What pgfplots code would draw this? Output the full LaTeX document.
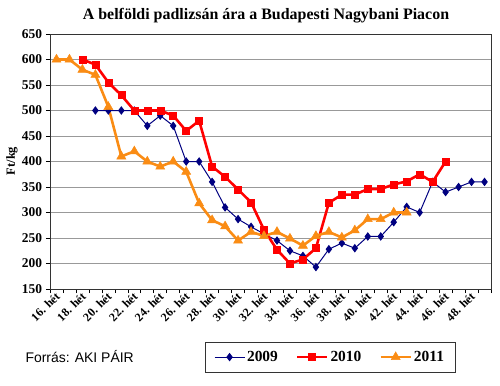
\documentclass[border=0pt]{standalone}
\usepackage{fontspec}
\setmainfont{Liberation Serif}
\newfontfamily\arial{Liberation Sans}
\usepackage{pgfplots}
\pgfplotsset{compat=1.18}
\definecolor{c2009}{RGB}{0,0,128}
\definecolor{c2010}{RGB}{255,0,0}
\definecolor{c2011}{RGB}{250,140,20}
\begin{document}
\begin{tikzpicture}
\useasboundingbox (-50bp,-97bp) rectangle (450bp,289bp);
\begin{axis}[
  at={(0,0)}, anchor=south west,
  scale only axis, width=441bp, height=255bp,
  xmin=15.5, xmax=49.5, ymin=150, ymax=650,
  ytick={150,200,...,650},
  xtick={16,18,...,48},
  xticklabels={16. hét,18. hét,20. hét,22. hét,24. hét,26. hét,28. hét,30. hét,32. hét,34. hét,36. hét,38. hét,40. hét,42. hét,44. hét,46. hét,48. hét},
  minor xtick={15.5,16.5,...,49.5},
  x tick style={draw=none},
  minor x tick style={draw=black, line width=0.6pt},
  minor tick length=4bp,
  major tick length=4bp,
  tick align=outside,
  ytick pos=left, xtick pos=bottom,
  y tick style={black, line width=0.6pt},
  ymajorgrids, grid style={gray!80, line width=0.6pt},
  axis line style={line width=0.6pt, black!80},
  /pgf/number format/assume math mode=true,
  yticklabel style={font=\bfseries\fontsize{13.5}{15}\selectfont, xshift=-0.5bp},
  xticklabel style={font=\bfseries\fontsize{12}{14}\selectfont, rotate=45, anchor=east, inner sep=1bp, yshift=-2bp, xshift=1bp},
  legend columns=3,
  legend style={at={(0.635,-0.267)}, anchor=center, draw=black!80, line width=0.6pt,
    font=\bfseries\fontsize{15.5}{17}\selectfont, inner xsep=9bp, inner ysep=7bp,
    /tikz/every even column/.append style={column sep=16bp}},
  legend image code/.code={\draw[mark repeat=2,mark phase=2] plot coordinates {(0bp,0bp)(15bp,0bp)(30bp,0bp)};},
]
\addplot[c2009, line width=1pt, mark=diamond*, mark size=3.5bp, mark options={solid}] coordinates {
(19,500)(20,500)(21,500)(22,500)(23,470)(24,490)(25,470)(26,400)(27,400)(28,360)(29,310)(30,287)(31,272)(32,258)(33,245)(34,225)(35,215)(36,193)(37,228)(38,240)(39,230)(40,253)(41,253)(42,281)(43,311)(44,300)(45,360)(46,340)(47,350)(48,360)(49,360)};
\addlegendentry{2009}
\addplot[c2010, line width=2.6pt, mark=square*, mark size=3.5bp, mark options={solid, line width=0.5pt}] coordinates {
(18,600)(19,590)(20,555)(21,530)(22,500)(23,500)(24,500)(25,490)(26,460)(27,480)(28,390)(29,370)(30,345)(31,320)(32,266)(33,227)(34,200)(35,208)(36,230)(37,319)(38,335)(39,335)(40,346)(41,346)(42,355)(43,361)(44,375)(45,360)(46,400)};
\addlegendentry{2010}
\addplot[c2011, line width=2.6pt, mark=triangle*, mark size=5.2bp, mark options={solid, line width=0.5pt}] coordinates {
(16,600)(17,600)(18,580)(19,570)(20,507)(21,410)(22,420)(23,400)(24,390)(25,400)(26,380)(27,318)(28,285)(29,273)(30,245)(31,262)(32,254)(33,262)(34,249)(35,235)(36,254)(37,262)(38,251)(39,265)(40,287)(41,287)(42,300)(43,300)};
\addlegendentry{2011}
\end{axis}
\node[font=\bfseries\fontsize{16}{18}\selectfont] at (216bp,273bp) {A belföldi padlizsán ára a Budapesti Nagybani Piacon};
\node[font=\bfseries\fontsize{12.5}{14}\selectfont, rotate=90] at (-38bp,128bp) {Ft/kg};
\node[font=\arial\fontsize{14}{16}\selectfont, anchor=west] at (-28bp,-68bp) {Forrás: AKI PÁIR};
\end{tikzpicture}
\end{document}
